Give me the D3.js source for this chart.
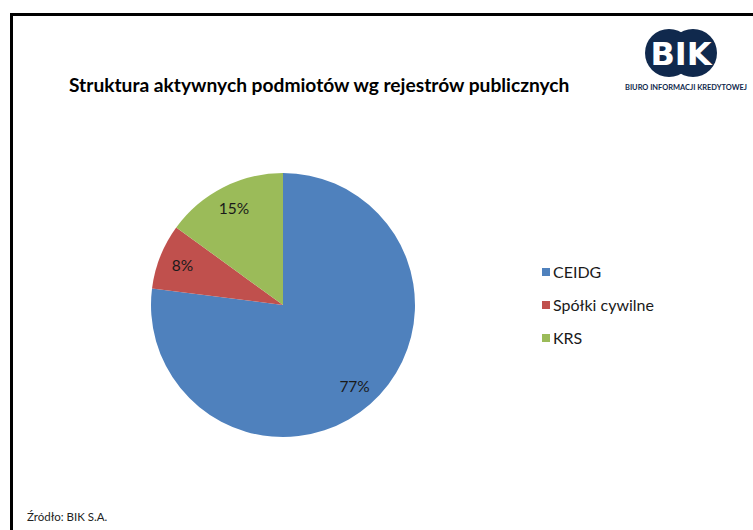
<!DOCTYPE html>
<html>
<head>
<meta charset="utf-8">
<script src="https://cdn.jsdelivr.net/npm/d3@7"></script>
<style>
  body { margin: 0; background: #fff; }
  svg { display: block; font-family: Lato, "Open Sans", sans-serif; }
</style>
</head>
<body>
<svg width="753" height="530"></svg>
<script>
// dane wykresu
var categories = ["CEIDG", "Spółki cywilne", "KRS"];
var shares = [77, 8, 15];
var labels = ["77%", "8%", "15%"];
var colors = ["#4F81BD", "#C0504D", "#9BBB59"];

var svg = d3.select("svg"),
    width = +svg.attr("width"),
    height = +svg.attr("height");

svg.append("rect").attr("width", width).attr("height", height).attr("fill", "#fff");

// ramka (tylko gora i lewa strona widoczne)
svg.append("path")
    .attr("d", "M11.5," + height + " L11.5,14.5 L" + width + ",14.5")
    .attr("fill", "none")
    .attr("stroke", "#000")
    .attr("stroke-width", 3);

// tytul
var title = svg.append("text")
    .attr("x", 69)
    .attr("y", 92)
    .attr("font-weight", "bold")
    .attr("font-size", 18)
    .attr("fill", "#000")
    .text("Struktura aktywnych podmiotów wg rejestrów publicznych");
var tw = title.node().getComputedTextLength();
title.attr("font-size", 18 * 501 / tw);

// logo BIK
var logo = svg.append("g").attr("transform", "translate(681,53)");
logo.append("circle").attr("cx", -12).attr("cy", 0).attr("r", 24).attr("fill", "#10294d");
logo.append("circle").attr("cx", 12).attr("cy", 0).attr("r", 24).attr("fill", "#10294d");
logo.append("text")
    .attr("x", 0).attr("y", 12)
    .attr("text-anchor", "middle")
    .attr("font-family", "'DejaVu Sans', sans-serif")
    .attr("font-weight", "bold")
    .attr("font-size", 32)
    .attr("fill", "#fff")
    .text("BIK");
var sub = svg.append("text")
    .attr("x", 625).attr("y", 90)
    .attr("font-size", 7)
    .attr("font-weight", "bold")
    .attr("fill", "#10294d")
    .text("BIURO INFORMACJI KREDYTOWEJ");
sub.attr("textLength", 122).attr("lengthAdjust", "spacingAndGlyphs");

// wykres kolowy
var cx = 283, cy = 305, r = 132;
var pie = d3.pie().sort(null).value(function (d) { return d; });
var arc = d3.arc().innerRadius(0).outerRadius(r);
var labelArc = d3.arc().innerRadius(r * 0.82).outerRadius(r * 0.82);

var g = svg.append("g").attr("transform", "translate(" + cx + "," + cy + ")");
var arcs = pie(shares);

g.selectAll("path.slice")
    .data(arcs)
    .enter().append("path")
    .attr("class", "slice")
    .attr("d", arc)
    .attr("fill", function (d, i) { return colors[i]; });

g.selectAll("text.lbl")
    .data(arcs)
    .enter().append("text")
    .attr("class", "lbl")
    .attr("transform", function (d) { return "translate(" + labelArc.centroid(d) + ")"; })
    .attr("text-anchor", "middle")
    .attr("dy", "0.35em")
    .attr("font-size", 15.5)
    .attr("fill", "#1a1a1a")
    .text(function (d, i) { return labels[i]; });

// legenda
var legend = svg.append("g").attr("transform", "translate(542,268)");
var items = legend.selectAll("g")
    .data(categories)
    .enter().append("g")
    .attr("transform", function (d, i) { return "translate(0," + (i * 33) + ")"; });
items.append("rect")
    .attr("width", 8).attr("height", 8)
    .attr("fill", function (d, i) { return colors[i]; });
items.append("text")
    .attr("x", 11).attr("y", 9.5)
    .attr("font-size", 16)
    .attr("fill", "#1a1a1a")
    .text(function (d) { return d; });

// zrodlo
svg.append("text")
    .attr("x", 27).attr("y", 521)
    .attr("font-size", 11.5)
    .attr("fill", "#222")
    .text("Źródło: BIK S.A.");
</script>
</body>
</html>
